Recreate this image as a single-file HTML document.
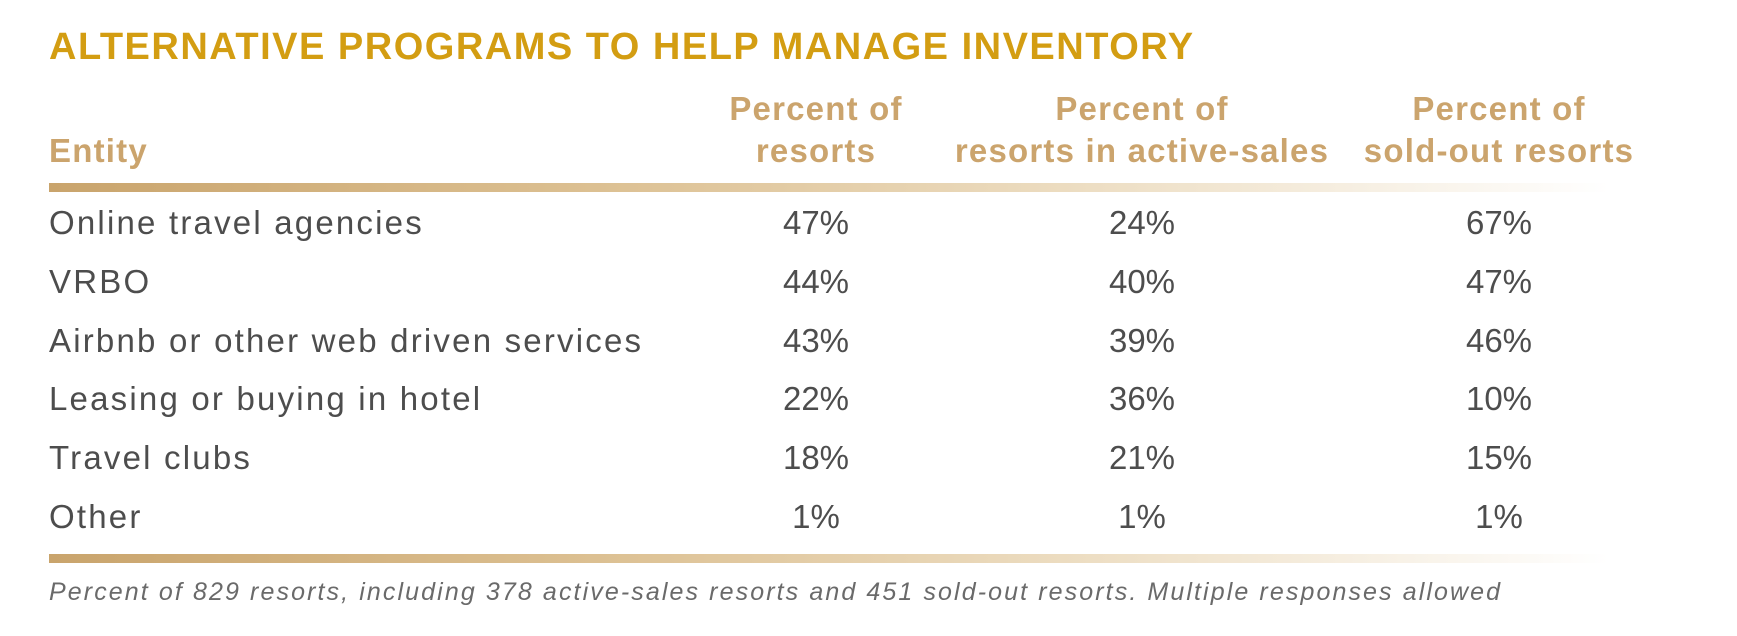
<!DOCTYPE html>
<html><head><meta charset="utf-8"><style>
body{margin:0;background:#fff;width:1737px;height:636px;position:relative;overflow:hidden;font-family:"Liberation Sans",sans-serif}
.t{position:absolute;white-space:nowrap;line-height:1}
.title{left:49px;top:28px;font-size:38px;font-weight:bold;color:#d39d12;letter-spacing:1.5px}
.h{color:#cba46d;font-size:33px;font-weight:bold;text-align:center;transform:translateX(-50%);letter-spacing:1.2px}
.c{font-size:33px;color:#4d4d4d}
.l{letter-spacing:2.2px}
.v{transform:translateX(-50%);text-align:center}
.bar{position:absolute;left:49px;width:1560px;height:9px;background:linear-gradient(90deg,#c9a46c 0%,#dcc092 35%,#ecdcc0 65%,#fff 100%)}
.foot{left:49px;top:580px;font-size:25px;font-style:italic;color:#6a6a6a;letter-spacing:2.1px}
</style></head><body>
<div class="t title">ALTERNATIVE PROGRAMS TO HELP MANAGE INVENTORY</div>
<div class="t h" style="top:134px;transform:none;left:49px">Entity</div>
<div class="t h" style="left:816px;top:92px">Percent of</div>
<div class="t h" style="left:816px;top:134px">resorts</div>
<div class="t h" style="left:1142px;top:92px">Percent of</div>
<div class="t h" style="left:1142px;top:134px">resorts in active-sales</div>
<div class="t h" style="left:1499px;top:92px">Percent of</div>
<div class="t h" style="left:1499px;top:134px">sold-out resorts</div>
<div class="bar" style="top:183px"></div>

<div class="t c l" style="left:49px;top:206px">Online travel agencies</div>
<div class="t c v" style="left:816px;top:206px">47%</div>
<div class="t c v" style="left:1142px;top:206px">24%</div>
<div class="t c v" style="left:1499px;top:206px">67%</div>

<div class="t c l" style="left:49px;top:265px">VRBO</div>
<div class="t c v" style="left:816px;top:265px">44%</div>
<div class="t c v" style="left:1142px;top:265px">40%</div>
<div class="t c v" style="left:1499px;top:265px">47%</div>

<div class="t c l" style="left:49px;top:324px">Airbnb or other web driven services</div>
<div class="t c v" style="left:816px;top:324px">43%</div>
<div class="t c v" style="left:1142px;top:324px">39%</div>
<div class="t c v" style="left:1499px;top:324px">46%</div>

<div class="t c l" style="left:49px;top:382px">Leasing or buying in hotel</div>
<div class="t c v" style="left:816px;top:382px">22%</div>
<div class="t c v" style="left:1142px;top:382px">36%</div>
<div class="t c v" style="left:1499px;top:382px">10%</div>

<div class="t c l" style="left:49px;top:441px">Travel clubs</div>
<div class="t c v" style="left:816px;top:441px">18%</div>
<div class="t c v" style="left:1142px;top:441px">21%</div>
<div class="t c v" style="left:1499px;top:441px">15%</div>

<div class="t c l" style="left:49px;top:500px">Other</div>
<div class="t c v" style="left:816px;top:500px">1%</div>
<div class="t c v" style="left:1142px;top:500px">1%</div>
<div class="t c v" style="left:1499px;top:500px">1%</div>

<div class="bar" style="top:554px"></div>
<div class="t foot">Percent of 829 resorts, including 378 active-sales resorts and 451 sold-out resorts. Multiple responses allowed</div>
</body></html>
